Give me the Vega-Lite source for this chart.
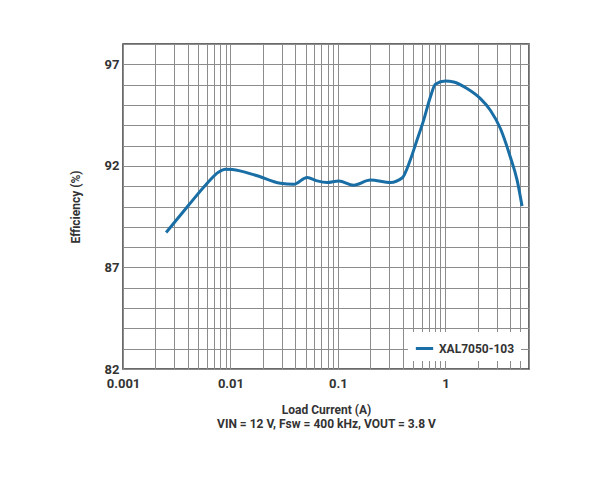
{
  "$schema": "https://vega.github.io/schema/vega-lite/v6.json",
  "width": 406,
  "height": 325,
  "autosize": {"type": "none"},
  "padding": {"left": 123, "top": 44, "right": 71, "bottom": 111},
  "background": "white",
  "config": {
    "font": "Roboto",
    "view": {"stroke": "#3a3a3a", "strokeWidth": 1.5},
    "axis": {
      "labelFont": "Roboto", "labelFontWeight": "bold", "labelFontSize": 13, "labelColor": "#333",
      "titleFont": "Roboto", "titleFontWeight": "bold", "titleFontSize": 12, "titleColor": "#333",
      "gridColor": "#8c8c8c", "gridOpacity": 1, "gridWidth": 1, "domain": false, "ticks": false
    }
  },
  "data": {
    "values": [
      {"current": 0.00252, "eff": 88.72, "series": "XAL7050-103"},
      {"current": 0.00409, "eff": 90.07, "series": "XAL7050-103"},
      {"current": 0.00585, "eff": 91.05, "series": "XAL7050-103"},
      {"current": 0.00778, "eff": 91.70, "series": "XAL7050-103"},
      {"current": 0.00897, "eff": 91.84, "series": "XAL7050-103"},
      {"current": 0.0104, "eff": 91.82, "series": "XAL7050-103"},
      {"current": 0.0171, "eff": 91.54, "series": "XAL7050-103"},
      {"current": 0.0291, "eff": 91.14, "series": "XAL7050-103"},
      {"current": 0.0388, "eff": 91.09, "series": "XAL7050-103"},
      {"current": 0.0517, "eff": 91.43, "series": "XAL7050-103"},
      {"current": 0.0641, "eff": 91.26, "series": "XAL7050-103"},
      {"current": 0.0794, "eff": 91.18, "series": "XAL7050-103"},
      {"current": 0.1018, "eff": 91.26, "series": "XAL7050-103"},
      {"current": 0.140, "eff": 91.05, "series": "XAL7050-103"},
      {"current": 0.2005, "eff": 91.30, "series": "XAL7050-103"},
      {"current": 0.308, "eff": 91.18, "series": "XAL7050-103"},
      {"current": 0.395, "eff": 91.40, "series": "XAL7050-103"},
      {"current": 0.472, "eff": 92.30, "series": "XAL7050-103"},
      {"current": 0.535, "eff": 93.15, "series": "XAL7050-103"},
      {"current": 0.628, "eff": 94.25, "series": "XAL7050-103"},
      {"current": 0.725, "eff": 95.39, "series": "XAL7050-103"},
      {"current": 0.807, "eff": 96.02, "series": "XAL7050-103"},
      {"current": 1.0, "eff": 96.18, "series": "XAL7050-103"},
      {"current": 1.195, "eff": 96.13, "series": "XAL7050-103"},
      {"current": 1.59, "eff": 95.81, "series": "XAL7050-103"},
      {"current": 2.12, "eff": 95.31, "series": "XAL7050-103"},
      {"current": 2.62, "eff": 94.74, "series": "XAL7050-103"},
      {"current": 3.25, "eff": 93.84, "series": "XAL7050-103"},
      {"current": 4.02, "eff": 92.44, "series": "XAL7050-103"},
      {"current": 4.65, "eff": 91.30, "series": "XAL7050-103"},
      {"current": 5.17, "eff": 90.02, "series": "XAL7050-103"}
    ]
  },
  "mark": {"type": "line", "interpolate": "monotone", "strokeWidth": 3, "clip": true},
  "encoding": {
    "x": {
      "field": "current", "type": "quantitative",
      "scale": {"type": "log", "domain": [0.001, 6], "nice": false},
      "axis": {
        "values": [0.001,0.002,0.003,0.004,0.005,0.006,0.007,0.008,0.009,0.01,0.02,0.03,0.04,0.05,0.06,0.07,0.08,0.09,0.1,0.2,0.3,0.4,0.5,0.6,0.7,0.8,0.9,1,2,3,4,5,6],
        "labelExpr": "abs(log(datum.value)/LN10 - round(log(datum.value)/LN10)) < 0.000001 ? datum.label : ''",
        "format": "~g",
        "labelPadding": 8,
        "labelFlush": false,
        "title": ["Load Current (A)", "VIN = 12 V, Fsw = 400 kHz, VOUT = 3.8 V"],
        "titlePadding": 14
      }
    },
    "y": {
      "field": "eff", "type": "quantitative",
      "scale": {"domain": [82, 98], "nice": false, "zero": false},
      "axis": {
        "values": [82,83,84,85,86,87,88,89,90,91,92,93,94,95,96,97,98],
        "labelExpr": "indexof([82,87,92,97], datum.value) >= 0 ? datum.label : ''",
        "labelPadding": 4,
        "title": "Efficiency (%)",
        "titlePadding": 22
      }
    },
    "color": {
      "field": "series", "type": "nominal",
      "scale": {"range": ["#196ea5"]},
      "legend": {
        "title": null, "orient": "bottom-right", "offset": 8,
        "fillColor": "white", "padding": 6,
        "symbolType": "stroke", "symbolStrokeWidth": 3, "symbolSize": 300,
        "labelFont": "Roboto", "labelFontWeight": "bold", "labelFontSize": 12, "labelColor": "#333"
      }
    }
  }
}
